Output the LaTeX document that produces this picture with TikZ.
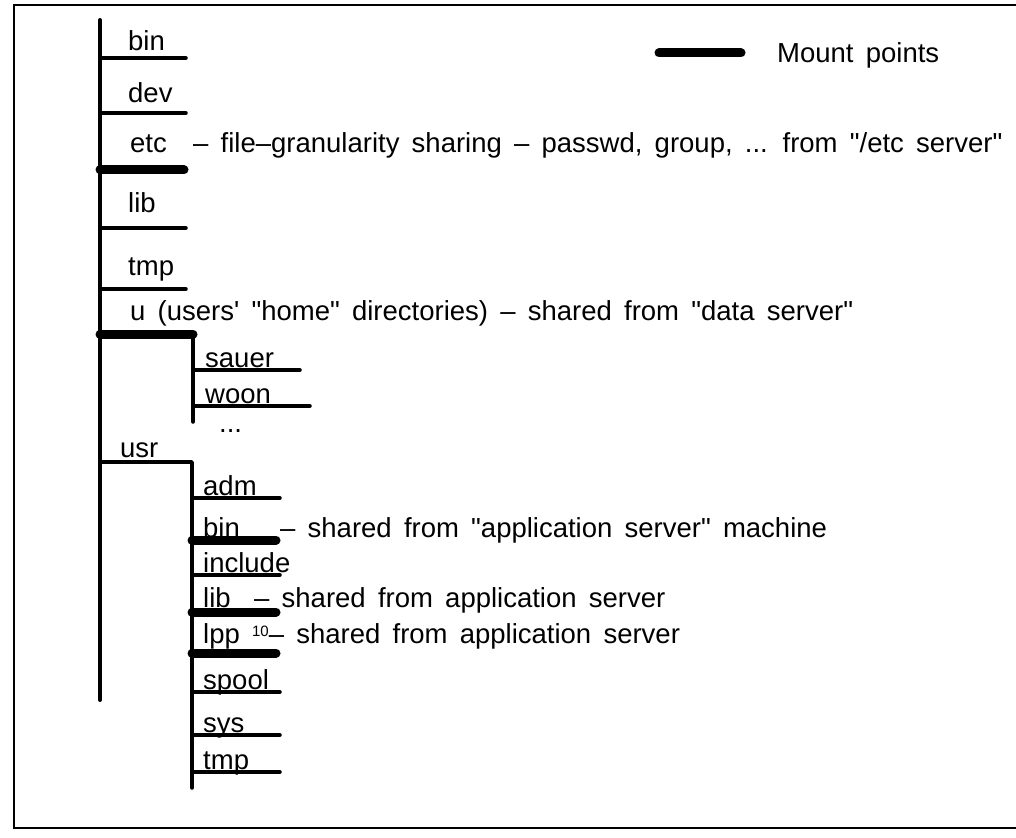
\documentclass[tikz,border=0pt]{standalone}
\usepackage{fontspec}
\setmainfont{Liberation Sans}[WordSpace=1.6,Ligatures=TeXOff]
\usetikzlibrary{positioning}
\begin{document}
\begin{tikzpicture}[x=1pt,y=-1pt,line cap=round,
	dir/.style={line width=3.5pt},
	mnt/.style={line width=9pt},
	lbl/.style={anchor=base west,inner sep=0pt,font=\fontsize{27.5}{32}\selectfont}]
	\useasboundingbox (0,0) rectangle (1016,837);
	\draw[line width=2pt,line cap=butt] (1016,5)--(14,5)--(14,828)--(1016,828);
	\coordinate (top) at (100,20);
	\coordinate (bot) at (100,700);
	\draw[line width=4pt] (top)--(bot);
	\foreach \nm/\yy/\yl in {bin/58/51,dev/113/103,lib/228/212,tmp/289/275}{
		\coordinate (r\nm) at (100,\yy);
		\coordinate (e\nm) at (186,\yy);
		\draw[dir] (r\nm)--(e\nm);
		\node[lbl] (l\nm) at (128,\yl) {\nm};
	}
	\coordinate (retc) at (100,170);
	\coordinate (eetc) at (184,170);
	\draw[mnt] (retc)--(eetc);
	\node[lbl] (letc) at (130,153) {etc};
	\node[lbl] (tetc) at (193,153) {– file–granularity sharing – passwd, group, ... from "/etc server"};
	% home directories
	\coordinate (ru) at (100,334);
	\coordinate (uj) at (193,334);
	\coordinate (ubot) at (193,422);
	\draw[mnt] (ru)--(uj);
	\draw[dir] (uj)--(ubot);
	\node[lbl] (lu) at (130,320) {u (users' "home" directories) – shared from "data server"};
	\foreach \nm/\yy/\xe in {sauer/370/300,woon/406/310}{
		\coordinate (h\nm) at (193,\yy);
		\coordinate (he\nm) at (\xe,\yy);
		\draw[dir] (h\nm)--(he\nm);
		\node[lbl] (lh\nm) at (205,\yy-3) {\nm};
	}
	\node[lbl] (hdots) at (219,432) {...};
	% usr
	\coordinate (rusr) at (100,462);
	\coordinate (usrj) at (192,462);
	\coordinate (usrbot) at (192,788);
	\draw[dir,line join=round] (rusr)--(usrj)--(usrbot);
	\node[lbl] (lusr) at (120,457) {usr};
	\foreach \nm/\yy in {adm/498,include/575,spool/692,sys/735,tmp/772}{
		\coordinate (s\nm) at (192,\yy);
		\coordinate (se\nm) at (280,\yy);
		\draw[dir] (s\nm)--(se\nm);
		\node[lbl] (ls\nm) at (203,\yy-3) {\nm};
	}
	\foreach \nm/\yy in {bin/540,lib/612,lpp/653}{
		\coordinate (s\nm) at (192,\yy);
		\coordinate (se\nm) at (276,\yy);
		\draw[mnt] (s\nm)--(se\nm);
	}
	\node[lbl] (lsbin) at (203,537) {bin};
	\node[lbl] (tsbin) at (280,537) {– shared from "application server" machine};
	\node[lbl] (lslib) at (203,607) {lib};
	\node[lbl] (tslib) at (254,607) {– shared from application server};
	\node[lbl] (lslpp) at (203,643) {lpp {\fontsize{15}{16}\selectfont\raisebox{7pt}{10}}– shared from application server};
	% legend
	\coordinate (ka) at (659,53);
	\coordinate (kb) at (741,53);
	\draw[mnt] (ka)--(kb);
	\node[lbl] (key) at (777,63) {Mount points};
\end{tikzpicture}
\end{document}
